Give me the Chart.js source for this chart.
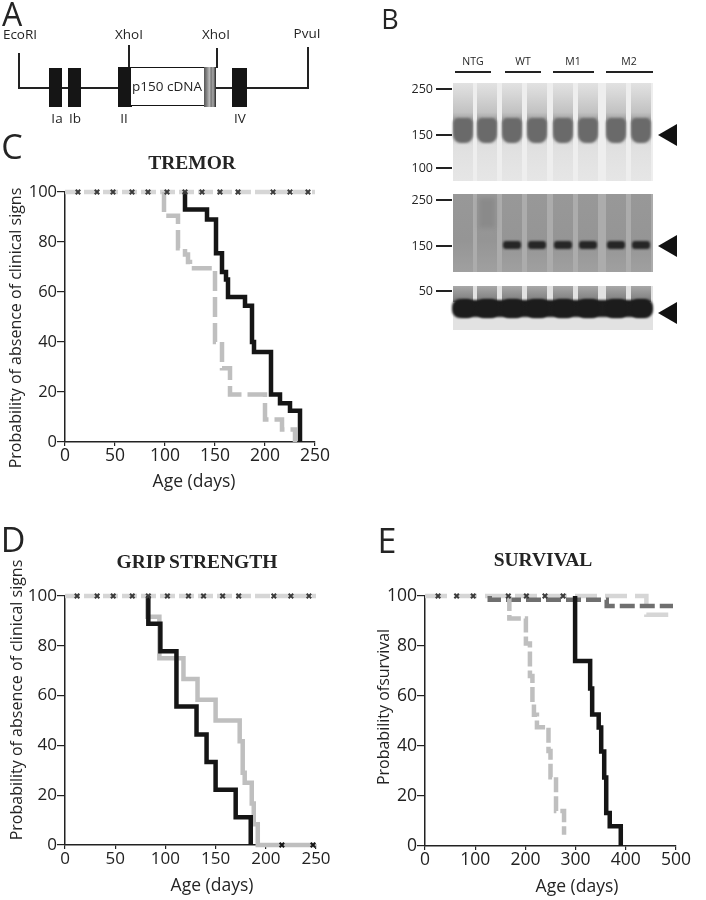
<!DOCTYPE html>
<html>
<head>
<meta charset="utf-8">
<script src="https://cdn.jsdelivr.net/npm/chart.js@4.4.1/dist/chart.umd.min.js"></script>
<style>
  body { margin: 0; background: #fff; }
  #fig { position: relative; width: 706px; height: 900px; overflow: hidden; font-family: "Open Sans", sans-serif; color: #222; }
  .t { position: absolute; transform: translate(-50%, -50%); white-space: nowrap; line-height: 1; opacity: 0.99; }
  .letter { font-size: 34px; }
  .ptitle { font-family: "Liberation Serif", serif; font-weight: bold; font-size: 19.5px; color: #222; }
  .xtitle { font-size: 17.5px; }
  .ytitle { font-size: 16px; transform: translate(-50%, -50%) rotate(-90deg); }
  .box { position: absolute; }
  .blk { position: absolute; background: #151515; }
  .ln { position: absolute; background: #222; }
  .small { font-size: 13.5px; }
  .mw { font-size: 12.5px; transform: translate(-100%, -50%); }
  .lane { font-size: 10.5px; }
  .arrow { position: absolute; width: 0; height: 0; border-top: 11px solid transparent; border-bottom: 11px solid transparent; border-right: 19px solid #111; }
</style>
</head>
<body>
<div id="fig">
  <!-- panel A: construct -->
  <div class="t letter" style="left:12px; top:14px; font-size:32px">A</div>
  <div class="t small" style="left:20px; top:35px">EcoRI</div>
  <div class="t small" style="left:129px; top:35px">XhoI</div>
  <div class="t small" style="left:216px; top:35px">XhoI</div>
  <div class="t small" style="left:307px; top:34px">PvuI</div>
  <div class="ln" style="left:18px; top:53px; width:1.6px; height:36px"></div>
  <div class="ln" style="left:18px; top:87px; width:291px; height:1.6px"></div>
  <div class="ln" style="left:128px; top:45px; width:1.6px; height:23px"></div>
  <div class="ln" style="left:216px; top:48px; width:1.6px; height:20px"></div>
  <div class="ln" style="left:307px; top:47px; width:1.6px; height:41px"></div>
  <div class="blk" style="left:49px; top:68px; width:13px; height:39px"></div>
  <div class="blk" style="left:68px; top:68px; width:13px; height:39px"></div>
  <div class="blk" style="left:118px; top:67px; width:14px; height:40px"></div>
  <div class="box" style="left:131px; top:67px; width:73px; height:37px; border:1.6px solid #151515; border-left:none; background:#fff"></div>
  <div class="box" style="left:204px; top:67px; width:12px; height:40px; background:linear-gradient(to right,#555 0%,#888 25%,#bbb 45%,#777 60%,#aaa 75%,#222 100%)"></div>
  <div class="blk" style="left:232px; top:68px; width:15px; height:39px"></div>
  <div class="t small" style="left:167px; top:87px">p150 cDNA</div>
  <div class="t small" style="left:57px; top:119px">Ia</div>
  <div class="t small" style="left:75px; top:119px">Ib</div>
  <div class="t small" style="left:124px; top:119px">II</div>
  <div class="t small" style="left:240px; top:119px">IV</div>

  <!-- panel B: western blots -->
  <div class="t letter" style="left:390px; top:18px; font-size:27px">B</div>
  <div id="blots"></div>

  <!-- panel titles -->
  <div class="t letter" style="left:12px; top:146px">C</div>
  <div class="t ptitle" style="left:192px; top:163px">TREMOR</div>
  <div class="t ytitle" style="left:15px; top:328px">Probability of absence of clinical signs</div>
  <div class="t xtitle" style="left:194px; top:481px">Age (days)</div>

  <div class="t letter" style="left:13px; top:539px">D</div>
  <div class="t ptitle" style="left:197px; top:562px">GRIP STRENGTH</div>
  <div class="t ytitle" style="left:16px; top:700px">Probability of absence of clinical signs</div>
  <div class="t xtitle" style="left:212px; top:885px">Age (days)</div>

  <div class="t letter" style="left:387px; top:540px">E</div>
  <div class="t ptitle" style="left:543px; top:560px">SURVIVAL</div>
  <div class="t ytitle" style="left:383px; top:707px">Probability ofsurvival</div>
  <div class="t xtitle" style="left:577px; top:886px">Age (days)</div>

  <div class="box" style="left:0; top:140px"><canvas id="chartC" width="340" height="340"></canvas></div>
  <div class="box" style="left:0; top:560px"><canvas id="chartD" width="340" height="335"></canvas></div>
  <div class="box" style="left:360px; top:560px"><canvas id="chartE" width="346" height="335"></canvas></div>
</div>

<script>
// C: tremor
const tremorTopDays = [0, 250]
const tremorTopPct = [100, 100]
const tremorCensorDays = [13, 32, 48, 67, 83, 102, 120, 137, 155, 173, 208, 225, 243]
const tremorBlackDays = [120, 120, 142, 151, 157, 161, 163, 180, 187, 189, 206, 215, 225, 235]
const tremorBlackPct = [100, 93, 89, 75.5, 68, 65, 58, 54.5, 40, 36, 19, 15.5, 12.5, 0]
const tremorGrayDays = [99, 99, 113, 120, 123, 125, 150, 157, 165, 200, 217, 230]
const tremorGrayPct = [100, 90.5, 77.5, 75, 72, 69.5, 40, 29.5, 19, 9, 5, 0]

// D: grip strength
const gripTopDays = [0, 250]
const gripTopPct = [100, 100]
const gripCensorDays = [12, 32, 48, 67, 83, 102, 123, 138, 157, 173, 208, 225, 243]
const gripBlackDays = [83, 83, 95, 111, 131, 141, 150, 170, 185]
const gripBlackPct = [100, 88.9, 77.8, 55.6, 44.4, 33.3, 22.2, 11.1, 0]
const gripGrayDays = [82, 82, 94, 118, 132, 150, 174, 177, 179, 186, 188, 192, 250]
const gripGrayPct = [100, 91.7, 75, 66.7, 58.3, 50, 41.7, 29, 25, 16.7, 8.3, 0, 0]
const gripZeroCensorDays = [216, 247]

// E: survival
const survLightDays = [0, 441, 494]
const survLightPct = [100, 92.5, 92.5]
const survDarkDays = [129, 129, 362, 494]
const survDarkPct = [100, 98.5, 96, 96]
const survCensorDays = [26, 63, 96, 166, 202, 239, 275]
const survGrayDays = [168, 168, 201, 209, 214, 217, 223, 246, 250, 261, 277]
const survGrayPct = [100, 91, 81, 68, 57, 52.5, 47.5, 38, 27.5, 14, 4.5]
const survBlackDays = [299, 299, 329, 333, 346, 351, 357, 361, 368, 390]
const survBlackPct = [100, 74, 63, 52.6, 47.4, 37.8, 27.4, 13.2, 7.9, 0]

const BLACK = "#151515"
const GRAY = "#bfbfbf"
const LIGHT = "#d6d6d6"
const DARK = "#6f6f6f"
const MARK = "#3c3c3c"

function kmPoints(days, pct) {
  return days.map((d, i) => ({ x: d, y: pct[i] }))
}

function curve(days, pct, color, dash) {
  return {
    data: kmPoints(days, pct),
    borderColor: color,
    borderWidth: 4.5,
    borderDash: dash || [],
    borderCapStyle: "butt",
    stepped: "before",
    pointRadius: 0,
    fill: false,
    clip: false
  }
}

function marks(days, level, color) {
  return {
    data: days.map(d => ({ x: d, y: level })),
    showLine: false,
    pointStyle: "crossRot",
    pointRadius: 3.2,
    pointBorderColor: color,
    pointBorderWidth: 2,
    clip: false
  }
}

function axisFont(size) {
  return { family: "Open Sans", size: size }
}

function makeChart(id, datasets, opt) {
  const ctx = document.getElementById(id).getContext("2d")
  return new Chart(ctx, {
    type: "line",
    data: { datasets: datasets },
    options: {
      responsive: false,
      animation: false,
      layout: { padding: opt.pad, autoPadding: false },
      plugins: { legend: { display: false }, tooltip: { enabled: false } },
      scales: {
        x: {
          type: "linear",
          min: 0,
          max: opt.xMax,
          ticks: { stepSize: opt.xStep, color: "#222", font: axisFont(opt.xFont), padding: 0, maxRotation: 0, autoSkip: false },
          grid: { drawOnChartArea: false, drawTicks: true, tickLength: 4, color: "#222", lineWidth: 1.2 },
          border: { display: true, color: "#222", width: 1.5 },
          afterFit: s => { s.height = 30 }
        },
        y: {
          min: 0,
          max: 100,
          ticks: { stepSize: 20, color: "#222", font: axisFont(opt.yFont), padding: 0 },
          grid: { drawOnChartArea: false, drawTicks: true, tickLength: 8, color: "#222", lineWidth: 1.2 },
          border: { display: true, color: "#222", width: 1.5 },
          afterFit: s => { s.width = 65 }
        }
      }
    }
  })
}

makeChart("chartC", [
  marks(tremorCensorDays, 100, MARK),
  curve(tremorBlackDays, tremorBlackPct, BLACK),
  curve(tremorGrayDays, tremorGrayPct, GRAY, [20, 6]),
  curve(tremorTopDays, tremorTopPct, LIGHT, [15, 4])
], { xMax: 250, xStep: 50, xFont: 17.5, yFont: 16.5, pad: { top: 52, right: 25, bottom: 8, left: 0 } })

makeChart("chartD", [
  marks(gripCensorDays, 100, MARK),
  marks(gripZeroCensorDays, 0, BLACK),
  curve(gripBlackDays, gripBlackPct, BLACK),
  curve(gripGrayDays, gripGrayPct, GRAY),
  curve(gripTopDays, gripTopPct, LIGHT, [15, 4])
], { xMax: 250, xStep: 50, xFont: 17, yFont: 17, pad: { top: 36, right: 24, bottom: 20, left: 0 } })

makeChart("chartE", [
  marks(survCensorDays, 100, MARK),
  curve(survBlackDays, survBlackPct, BLACK),
  curve(survGrayDays, survGrayPct, GRAY, [15, 4]),
  curve(survDarkDays, survDarkPct, DARK, [15, 5]),
  curve(survLightDays, survLightPct, LIGHT, [22, 8])
], { xMax: 500, xStep: 100, xFont: 17.5, yFont: 17.5, pad: { top: 36, right: 30, bottom: 19, left: 0 } })

// panel B: blot picture built from plain boxes
function blotPanel() {
  const root = document.getElementById("blots")
  const laneX = [453, 477, 502, 527, 553, 578, 606, 631]
  let html = ""
  const groups = [["NTG", 473, 455, 491], ["WT", 523, 505, 541], ["M1", 573, 553, 594], ["M2", 629, 606, 653]]
  groups.forEach(g => {
    html += `<div class="t lane" style="left:${g[1]}px; top:61px">${g[0]}</div>`
    html += `<div class="ln" style="left:${g[2]}px; top:71px; width:${g[3] - g[2]}px; height:2px"></div>`
  })
  // blot 1
  html += `<div class="box" style="left:453px; top:83px; width:200px; height:98px; background:#eeeeee"></div>`
  laneX.forEach(x => {
    html += `<div class="box" style="left:${x}px; top:83px; width:20px; height:98px; background:linear-gradient(#e2e2e2 0%, #d6d6d6 12%, #c2c2c2 30%, #a8a8a8 36%, #e0e0e0 64%, #e6e6e6 100%)"></div>`
    html += `<div class="box" style="left:${x}px; top:118px; width:20px; height:25px; background:#6a6a6a; border-radius:5px 5px 8px 8px; filter:blur(0.8px)"></div>`
  })
  // blot 2
  html += `<div class="box" style="left:453px; top:194px; width:200px; height:78px; background:#acacac"></div>`
  laneX.forEach((x, i) => {
    html += `<div class="box" style="left:${x}px; top:194px; width:20px; height:78px; background:linear-gradient(#989898, #959595 60%, #a0a0a0)"></div>`
    if (i > 1) html += `<div class="box" style="left:${x + 1}px; top:241px; width:18px; height:8px; background:#262626; border-radius:3px; filter:blur(0.8px)"></div>`
  })
  html += `<div class="box" style="left:479px; top:198px; width:16px; height:30px; background:#8a8a8a; filter:blur(2px)"></div>`
  // blot 3
  html += `<div class="box" style="left:453px; top:286px; width:200px; height:44px; background:#e2e2e2"></div>`
  laneX.forEach(x => {
    html += `<div class="box" style="left:${x}px; top:286px; width:20px; height:16px; background:linear-gradient(#a8a8a8, #7a7a7a)"></div>`
  })
  html += `<div class="box" style="left:456px; top:300px; width:195px; height:17px; background:#1e1e1e; border-radius:8px; filter:blur(0.8px)"></div>`
  laneX.forEach(x => {
    html += `<div class="box" style="left:${x - 1}px; top:299px; width:23px; height:19px; background:#1c1c1c; border-radius:8px; filter:blur(0.8px)"></div>`
  })
  // size markers
  const markers = [[89, "250"], [135, "150"], [168, "100"], [200, "250"], [246, "150"], [291, "50"]]
  markers.forEach(m => {
    html += `<div class="t mw" style="left:433px; top:${m[0]}px">${m[1]}</div>`
    html += `<div class="ln" style="left:436px; top:${m[0] - 1}px; width:16px; height:2.4px"></div>`
  })
  ;[135, 246, 313].forEach(y => {
    html += `<div class="arrow" style="left:658px; top:${y - 11}px"></div>`
  })
  root.innerHTML = html
}
blotPanel()
</script>
</body>
</html>
